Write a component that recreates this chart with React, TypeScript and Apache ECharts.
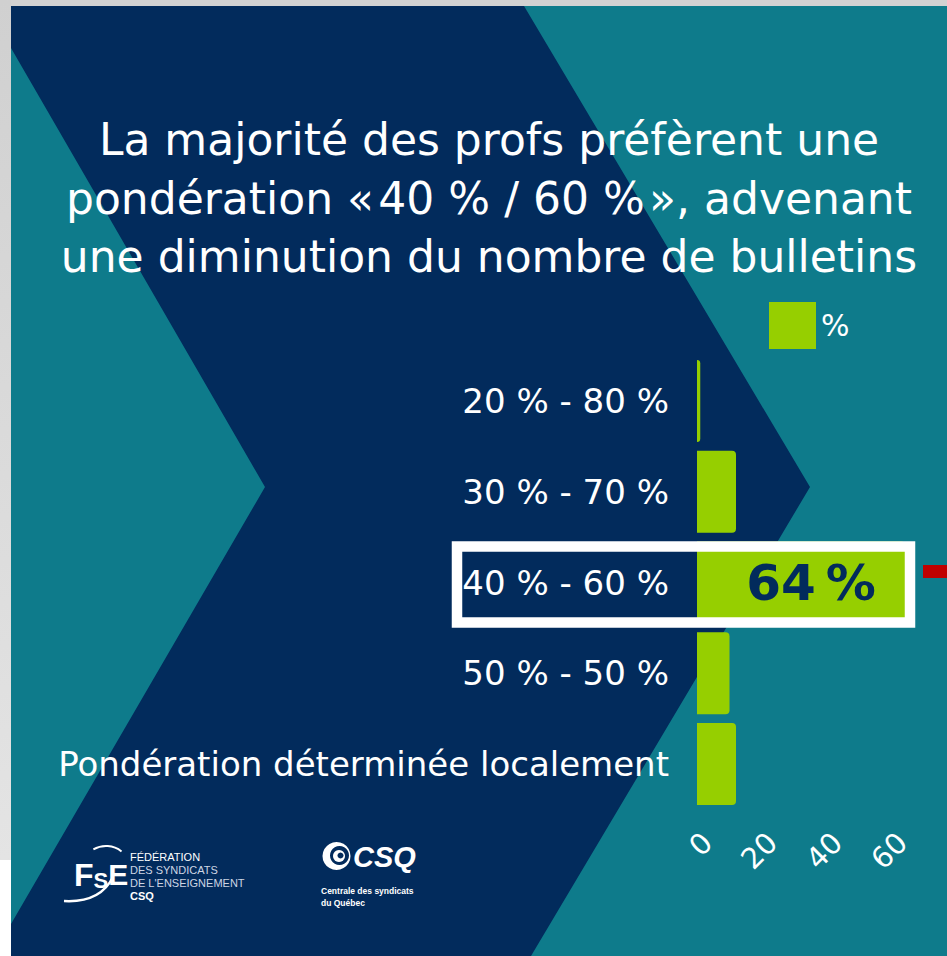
import React, { useEffect, useRef } from 'react';
import * as echarts from 'echarts';

const categories = [
  '20 % - 80 %',
  '30 % - 70 %',
  '40 % - 60 %',
  '50 % - 50 %',
  'Pondération déterminée localement',
];
const values = [1, 12, 64, 10, 12];
const xTicks = [0, 20, 40, 60];
const seriesName = '%';
const highlightIndex = 2;
const titleLines = [
  'La majorité des profs préfèrent une',
  'pondération «\u200A40 % / 60 %\u200A», advenant',
  'une diminution du nombre de bulletins',
];
const fseLines = ['FÉDÉRATION', 'DES SYNDICATS', "DE L'ENSEIGNEMENT", 'CSQ'];
const csqLines = ['Centrale des syndicats', 'du Québec'];

const FONT = '"DejaVu Sans", sans-serif';
const LOGO_FONT = '"Liberation Sans", Arial, sans-serif';
const NAVY = '#022b5c';
const TEAL = '#0e7b8b';
const GREEN = '#96cf00';

export default function App() {
  const ref = useRef<HTMLDivElement>(null);
  useEffect(() => {
    if (!ref.current) return;
    const chart = echarts.init(ref.current, null, { renderer: 'svg' });
    const option = {
      animation: false,
      backgroundColor: '#d2d2d2',
      legend: {
        data: [seriesName],
        left: 764,
        top: 297,
        icon: 'rect',
        itemWidth: 47,
        itemHeight: 47,
        selectedMode: false,
        textStyle: { color: '#ffffff', fontSize: 30, fontFamily: FONT },
      },
      grid: { left: 697, top: 355.5, width: 64 * 3.25, height: 454 },
      xAxis: {
        type: 'value',
        min: 0,
        max: 64,
        axisLine: { show: false },
        axisTick: { show: false },
        splitLine: { show: false },
        axisLabel: {
          customValues: xTicks,
          rotate: 45,
          align: 'right',
          verticalAlign: 'top',
          margin: 18,
          color: '#ffffff',
          fontSize: 29,
          fontFamily: FONT,
        },
      },
      yAxis: {
        type: 'category',
        data: categories,
        inverse: true,
        axisLine: { show: false },
        axisTick: { show: false },
        axisLabel: { color: '#ffffff', fontSize: 34, fontFamily: FONT, margin: 28 },
      },
      series: [
        {
          type: 'bar',
          name: seriesName,
          barWidth: 82,
          data: values.map((v, i) =>
            i === highlightIndex ? { value: v, label: { show: true } } : v
          ),
          itemStyle: { color: GREEN, borderRadius: [0, 4, 4, 0] },
          label: {
            show: false,
            position: 'inside',
            offset: [10, 0],
            formatter: '{c}\u202F%',
            color: NAVY,
            fontSize: 50,
            fontWeight: 'bold',
            fontFamily: FONT,
          },
        },
      ],
      graphic: {
        elements: [
          {
            type: 'rect',
            z: -100,
            shape: { x: 0, y: 0, width: 11, height: 860 },
            style: {
              fill: new echarts.graphic.LinearGradient(0, 0, 0, 1, [
                { offset: 0, color: '#d0d0d0' },
                { offset: 1, color: '#e4e4e4' },
              ]),
            },
          },
          { type: 'rect', z: -100, shape: { x: 0, y: 860, width: 11, height: 96 }, style: { fill: '#ffffff' } },
          { type: 'rect', z: -100, shape: { x: 11, y: 6, width: 936, height: 950 }, style: { fill: TEAL } },
          {
            type: 'polygon',
            z: -99,
            shape: {
              points: [
                [11, 6], [524, 6], [810, 487], [531, 956], [11, 956],
                [11, 924], [265, 487], [11, 48],
              ],
            },
            style: { fill: NAVY },
          },
          {
            type: 'text',
            z: 50,
            x: 489,
            y: 110.5,
            style: {
              text: titleLines.join('\n'),
              align: 'center',
              verticalAlign: 'top',
              fill: '#ffffff',
              fontSize: 44,
              lineHeight: 58.5,
              fontFamily: FONT,
            },
          },
          {
            type: 'rect',
            z: 50,
            shape: { x: 457, y: 546.5, width: 453, height: 76 },
            style: { fill: 'none', stroke: '#ffffff', lineWidth: 10.5 },
          },
          { type: 'rect', z: 50, shape: { x: 923, y: 565, width: 24, height: 13 }, style: { fill: '#c00000' } },
          // FSE logo
          {
            type: 'text',
            z: 50,
            x: 74,
            y: 875,
            style: {
              text: '{a|F}{b|S}{c|E}',
              verticalAlign: 'middle',
              rich: {
                a: { fill: '#fff', fontSize: 32, fontWeight: 'bold', fontFamily: LOGO_FONT, verticalAlign: 'bottom' },
                b: { fill: '#fff', fontSize: 22, fontWeight: 'bold', fontFamily: LOGO_FONT, verticalAlign: 'bottom' },
                c: { fill: '#fff', fontSize: 30, fontWeight: 'bold', fontFamily: LOGO_FONT, verticalAlign: 'top' },
              },
            },
          },
          { type: 'arc', z: 50, shape: { cx: 106, cy: 871, r: 25, startAngle: -2.1, endAngle: -0.9 }, style: { stroke: '#fff', lineWidth: 2, fill: 'none' } },
          { type: 'bezierCurve', z: 50, shape: { x1: 64, y1: 901, x2: 113, y2: 877, cpx1: 100, cpy1: 903 }, style: { stroke: '#fff', lineWidth: 2.5, fill: 'none' } },
          ...fseLines.map((t, i) => ({
            type: 'text',
            z: 50,
            x: 130,
            y: 857 + i * 13,
            style: {
              text: t,
              fill: i === 0 || i === 3 ? '#ffffff' : '#cdd5e3',
              fontSize: 11,
              fontWeight: i === 3 ? 'bold' : 'normal',
              fontFamily: LOGO_FONT,
              verticalAlign: 'middle',
            },
          })),
          // CSQ logo
          { type: 'circle', z: 50, shape: { cx: 336.5, cy: 856, r: 14 }, style: { fill: '#fff' } },
          { type: 'circle', z: 51, shape: { cx: 339.5, cy: 855.5, r: 9.5 }, style: { fill: NAVY } },
          { type: 'circle', z: 52, shape: { cx: 339, cy: 856, r: 6 }, style: { fill: '#fff' } },
          { type: 'circle', z: 53, shape: { cx: 340.5, cy: 855.5, r: 3 }, style: { fill: NAVY } },
          { type: 'text', z: 50, x: 353, y: 857, style: { text: 'CSQ', fill: '#fff', fontSize: 29, fontWeight: 'bold', fontStyle: 'italic', fontFamily: LOGO_FONT, verticalAlign: 'middle' } },
          ...csqLines.map((t, i) => ({
            type: 'text',
            z: 50,
            x: 321,
            y: 891 + i * 11.5,
            style: { text: t, fill: '#fff', fontSize: 8.5, fontWeight: 'bold', fontFamily: LOGO_FONT, verticalAlign: 'middle' },
          })),
        ],
      },
    };
    chart.setOption(option as any);
    return () => chart.dispose();
  }, []);
  return (
    <div
      ref={ref}
      style={{ position: 'fixed', left: 0, top: 0, width: 947, height: 956 }}
    />
  );
}
